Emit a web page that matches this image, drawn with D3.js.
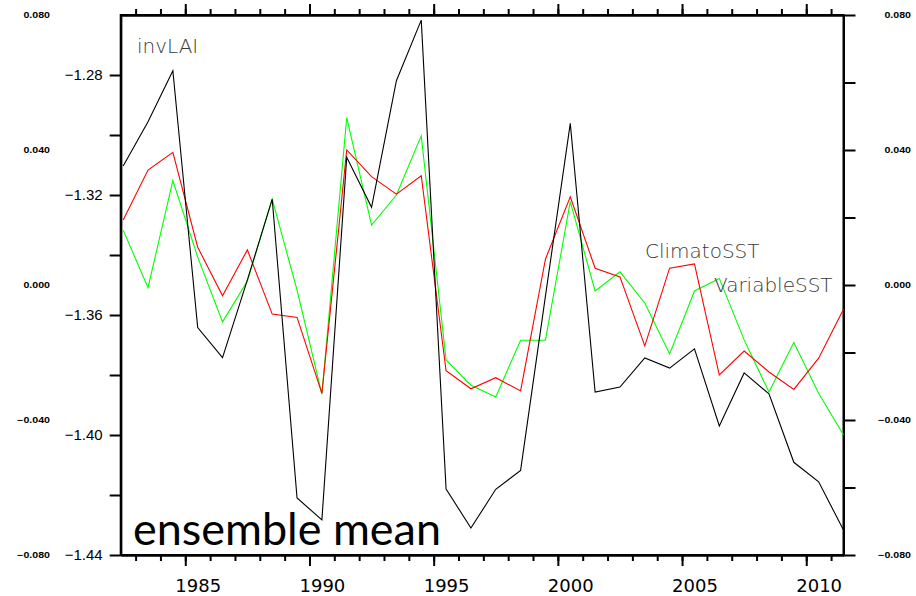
<!DOCTYPE html>
<html>
<head>
<meta charset="utf-8">
<script src="https://cdn.jsdelivr.net/npm/d3@7"></script>
<style>
  html, body { margin: 0; padding: 0; background: #fff; }
  svg { display: block; }
</style>
</head>
<body>
<svg id="chart" width="916" height="596"></svg>
<script>
// ---------------- data ----------------
const years = d3.range(1982, 2012); // 1982 .. 2011 (annual means plotted at mid-year)

const invLAI = [-1.3103, -1.2956, -1.2786, -1.3642, -1.3742, -1.3483, -1.3214, -1.4210, -1.4283, -1.3074,
                -1.3241, -1.2819, -1.2617, -1.4180, -1.4310, -1.4181, -1.4118, -1.3537, -1.2961, -1.3857,
                -1.3840, -1.3743, -1.3777, -1.3713, -1.3970, -1.3793, -1.3863, -1.4091, -1.4156, -1.4317];

const climatoSST = [-1.3283, -1.3117, -1.3058, -1.3374, -1.3536, -1.3383, -1.3597, -1.3608, -1.3861, -1.3050,
                    -1.3139, -1.3197, -1.3136, -1.3786, -1.3846, -1.3809, -1.3853, -1.3414, -1.3206, -1.3444,
                    -1.3473, -1.3703, -1.3444, -1.3430, -1.3800, -1.3720, -1.3790, -1.3848, -1.3744, -1.3581];

const variableSST = [-1.3317, -1.3509, -1.3152, -1.3407, -1.3623, -1.3487, -1.3214, -1.3517, -1.3864, -1.2942,
                     -1.3300, -1.3200, -1.3003, -1.3750, -1.3834, -1.3873, -1.3684, -1.3684, -1.3222, -1.3520,
                     -1.3456, -1.3560, -1.3730, -1.3520, -1.3478, -1.3683, -1.3857, -1.3692, -1.3861, -1.4000];

const seriesNames = ["invLAI", "ClimatoSST", "VariableSST"];
const seriesColors = ["#000000", "#ff0000", "#00ff00"];

const xMajorTicks = [1985, 1990, 1995, 2000, 2005, 2010];
const xMinorTicks = d3.range(1983, 2012);
const leftMajorTicks = [-1.28, -1.32, -1.36, -1.40, -1.44];
const leftMinorTicks = [-1.30, -1.34, -1.38, -1.42];
const rightTicks = [-0.08, -0.06, -0.04, -0.02, 0, 0.02, 0.04, 0.06, 0.08];
const rightLabels = [0.08, 0.04, 0, -0.04, -0.08];
const title = "ensemble mean";

// ---------------- layout ----------------
const L = 120.7, R = 843.5, T = 15, B = 555;
const svg = d3.select("#chart");

const x = d3.scaleLinear().domain([1982.4, 2011.5]).range([L, R]);
const y = d3.scaleLinear().domain([-1.44, -1.26]).range([B, T]);
const yR = d3.scaleLinear().domain([-0.08, 0.08]).range([B, T]);
const halfYear = x(1985.5) - x(1985);

function styleAxis(g, w) {
  g.selectAll("path.domain").attr("stroke", "#000").attr("stroke-width", w);
  g.selectAll(".tick line").attr("stroke", "#000").attr("stroke-width", w);
}

// bottom axis: minor + major
const gbMin = svg.append("g").attr("transform", `translate(0,${B})`)
  .call(d3.axisBottom(x).tickValues(xMinorTicks).tickSize(6).tickSizeOuter(0).tickFormat(""));
styleAxis(gbMin, 2);
const gbMaj = svg.append("g").attr("transform", `translate(0,${B})`)
  .call(d3.axisBottom(x).tickValues(xMajorTicks).tickSize(11).tickSizeOuter(0).tickPadding(13).tickFormat(d3.format("d")));
styleAxis(gbMaj, 2);
gbMaj.selectAll(".tick text")
  .attr("dx", halfYear)
  .attr("font-family", "'DejaVu Sans', sans-serif")
  .attr("font-size", 18)
  .attr("fill", "#000");

// top axis
const gtMin = svg.append("g").attr("transform", `translate(0,${T})`)
  .call(d3.axisTop(x).tickValues(xMinorTicks).tickSize(6).tickSizeOuter(0).tickFormat(""));
styleAxis(gtMin, 2);
const gtMaj = svg.append("g").attr("transform", `translate(0,${T})`)
  .call(d3.axisTop(x).tickValues(xMajorTicks).tickSize(11).tickSizeOuter(0).tickFormat(""));
styleAxis(gtMaj, 2);

// left axis
const glMin = svg.append("g").attr("transform", `translate(${L},0)`)
  .call(d3.axisLeft(y).tickValues(leftMinorTicks).tickSize(11).tickSizeOuter(0).tickFormat(""));
styleAxis(glMin, 2);
const glMaj = svg.append("g").attr("transform", `translate(${L},0)`)
  .call(d3.axisLeft(y).tickValues(leftMajorTicks).tickSize(11).tickSizeOuter(0).tickPadding(7).tickFormat(d3.format(".2f")));
styleAxis(glMaj, 2);
glMaj.selectAll(".tick text")
  .attr("font-family", "'Liberation Sans', Arial, sans-serif")
  .attr("font-size", 15)
  .attr("fill", "#000");

// right axis
const gr = svg.append("g").attr("transform", `translate(${R},0)`)
  .call(d3.axisRight(yR).tickValues(rightTicks).tickSize(12).tickSizeOuter(0).tickFormat(""));
styleAxis(gr, 2);

// small labels of the right scale, repeated at both edges
const fmtR = d3.format(".3f");
[911, 50].forEach(xe => {
  svg.append("g").selectAll("text").data(rightLabels).join("text")
    .attr("transform", d => `translate(${xe},${yR(d) + 3}) scale(1.25,1)`)
    .attr("text-anchor", "end")
    .attr("font-family", "'Liberation Sans', Arial, sans-serif")
    .attr("font-weight", "bold")
    .attr("font-size", 8.5)
    .attr("fill", "#000")
    .text(d => fmtR(d));
});

// plot frame
svg.append("rect")
  .attr("x", L).attr("y", T).attr("width", R - L).attr("height", B - T)
  .attr("fill", "none").attr("stroke", "#000").attr("stroke-width", 2);

// ---------------- lines ----------------
const line = d3.line().x((d, i) => x(years[i] + 0.5)).y(d => y(d));
const allSeries = [invLAI, climatoSST, variableSST];
[2, 1, 0].forEach(k => {
  svg.append("path")
    .datum(allSeries[k])
    .attr("d", line)
    .attr("fill", "none")
    .attr("stroke", seriesColors[k])
    .attr("stroke-width", 1.1)
    .attr("stroke-linejoin", "miter");
});

// ---------------- labels ----------------
const labelPos = [[137, 53], [645, 258], [714, 292]];
seriesNames.forEach((n, k) => {
  svg.append("text")
    .attr("x", labelPos[k][0]).attr("y", labelPos[k][1])
    .attr("font-family", "'DejaVu Sans', sans-serif")
    .attr("font-weight", 200)
    .attr("font-size", 20)
    .attr("fill", "#3a3a3a")
    .text(n);
});

svg.append("text")
  .attr("x", 133).attr("y", 545)
  .attr("font-family", "Lato, 'Open Sans', sans-serif")
  .attr("font-size", 44)
  .attr("textLength", 308)
  .attr("lengthAdjust", "spacingAndGlyphs")
  .attr("fill", "#000")
  .text(title);
</script>
</body>
</html>
